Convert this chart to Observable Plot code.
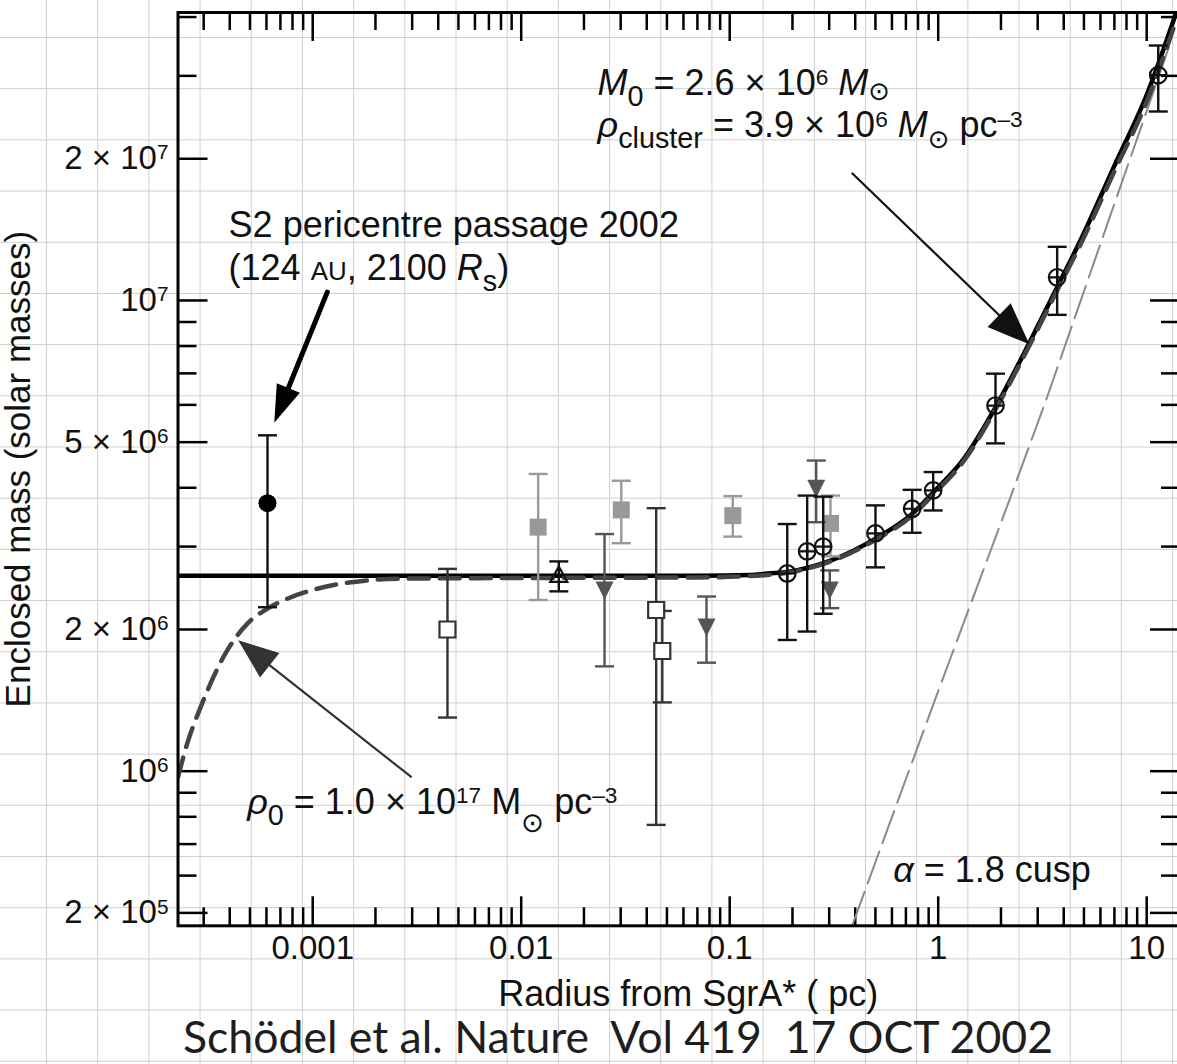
<!DOCTYPE html>
<html><head><meta charset="utf-8">
<script src="https://cdn.jsdelivr.net/npm/d3@7"></script>
<script src="https://cdn.jsdelivr.net/npm/@observablehq/plot@0.6"></script>
<style>
html { margin:0; padding:0; }
body { margin:0; padding:0; width:1177px; height:1064px; overflow:hidden; position:relative;
  background-color:#fff;
  background-image: linear-gradient(90deg, #cfcfcf 1.4px, transparent 1.4px), linear-gradient(180deg, #cfcfcf 1.4px, transparent 1.4px);
  background-size: 51.2px 51.2px; background-position: 46px 37px; }
#chart svg { display:block; }
#caption { position:absolute; left:183px; top:1017px; font-family: Lato, "Open Sans", sans-serif; font-size:44px; line-height:38px; color:#1e1e1e; white-space:pre; transform-origin:0 0; }
</style></head>
<body>
<div id="chart"></div>
<div id="caption">Schödel et al. Nature  Vol 419  17 OCT 2002</div>
<script>
// ---------- data ----------
// filled black circle: S2 pericentre passage
const s2_r = [6.07e-4], s2_m = [3.71e6], s2_lo = [2.23e6], s2_hi = [5.17e6];
// open squares
const openSq_r = [4.43e-3, 0.0444, 0.0475];
const openSq_m = [2.00e6, 2.20e6, 1.80e6];
const openSq_lo = [1.30e6, 7.69e5, 1.40e6];
const openSq_hi = [2.69e6, 3.62e6, 2.19e6];
// open triangle
const openTri_r = [0.01515], openTri_m = [2.61e6], openTri_lo = [2.41e6], openTri_hi = [2.79e6];
// light grey filled squares
const graySq_r = [0.01206, 0.0302, 0.1035, 0.3044];
const graySq_m = [3.30e6, 3.59e6, 3.49e6, 3.36e6];
const graySq_lo = [2.31e6, 3.05e6, 3.15e6, 2.86e6];
const graySq_hi = [4.28e6, 4.14e6, 3.84e6, 3.85e6];
// dark grey filled downward triangles
const downTri_r = [0.0251, 0.0774, 0.26, 0.302];
const downTri_m = [2.42e6, 2.02e6, 3.98e6, 2.42e6];
const downTri_lo = [1.67e6, 1.70e6, 3.38e6, 2.22e6];
const downTri_hi = [3.19e6, 2.35e6, 4.57e6, 2.67e6];
// circles with cross
const circ_r = [0.1888, 0.2353, 0.2808, 0.5003, 0.750, 0.946, 1.883, 3.72, 11.36];
const circ_m = [2.63e6, 2.93e6, 3.00e6, 3.20e6, 3.61e6, 3.95e6, 5.98e6, 1.12e7, 3.01e7];
const circ_lo = [1.90e6, 1.98e6, 2.16e6, 2.71e6, 3.21e6, 3.58e6, 4.97e6, 9.32e6, 2.52e7];
const circ_hi = [3.35e6, 3.85e6, 3.83e6, 3.67e6, 3.96e6, 4.32e6, 6.99e6, 1.30e7, 3.48e7];
// model curves
const solid_r = [2.26e-4, 0.0724, 0.1258, 0.1513, 0.1888, 0.3044, 0.5003, 0.750, 0.946, 1.327, 1.883, 2.771, 3.72, 4.814, 6.954, 10.06, 13.75];
const solid_m = [2.60e6, 2.60e6, 2.61e6, 2.63e6, 2.65e6, 2.80e6, 3.12e6, 3.52e6, 3.91e6, 4.61e6, 5.93e6, 8.22e6, 1.067e7, 1.342e7, 1.92e7, 2.75e7, 4.05e7];
const dashed_r = [2.26e-4, 2.50e-4, 2.90e-4, 3.89e-4, 4.85e-4, 6.05e-4, 7.55e-4, 1.051e-3, 1.826e-3, 2.64e-3, 0.01382, 0.0724, 0.1513, 0.3044, 0.5003, 0.750, 0.946, 1.327, 1.883, 2.771, 3.72, 4.814, 6.954, 10.06, 13.75];
const dashed_m = [9.72e5, 1.144e6, 1.368e6, 1.805e6, 2.056e6, 2.213e6, 2.325e6, 2.441e6, 2.542e6, 2.564e6, 2.574e6, 2.58e6, 2.61e6, 2.79e6, 3.10e6, 3.49e6, 3.87e6, 4.56e6, 5.87e6, 8.10e6, 1.050e7, 1.315e7, 1.870e7, 2.66e7, 3.90e7];
const cusp_r = [0.3895, 0.989, 2.222, 3.33, 12.77];
const cusp_m = [4.74e5, 1.46e6, 3.82e6, 6.23e6, 3.45e7];
// axes
const xMajor = [0.001, 0.01, 0.1, 1, 10];
const xMajorLabels = ["0.001", "0.01", "0.1", "1", "10"];
const xMinor = [3e-4,4e-4,5e-4,6e-4,7e-4,8e-4,9e-4, 2e-3,3e-3,4e-3,5e-3,6e-3,7e-3,8e-3,9e-3,
  0.02,0.03,0.04,0.05,0.06,0.07,0.08,0.09, 0.2,0.3,0.4,0.5,0.6,0.7,0.8,0.9, 2,3,4,5,6,7,8,9];
const yMajor = [5e5, 1e6, 2e6, 5e6, 1e7, 2e7];
const yMajorLabels = ["2 × 10^{5}", "10^{6}", "2 × 10^{6}", "5 × 10^{6}", "10^{7}", "2 × 10^{7}"];
const yMinor = [6e5,7e5,8e5,9e5, 3e6,4e6, 6e6,7e6,8e6,9e6, 3e7,4e7];
const xTitle = "Radius from SgrA* ( pc)";
const yTitle = "Enclosed mass (solar masses)";
// annotations
const note_r = [3.95e-4, 3.95e-4, 0.02323, 0.02323, 4.85e-4, 0.6083];
const note_m = [1.361e7, 1.103e7, 2.726e7, 2.22e7, 8.12e5, 5.81e5];
const note_text = [
  "S2 pericentre passage 2002",
  "(124 ~{AU}, 2100 *{R}_{s})",
  "*{M}_{0} = 2.6 × 10^{6} *{M}@{⊙}",
  "*{ρ}_{cluster} = 3.9 × 10^{6} *{M}%{⊙} pc^{–3}",
  "*{ρ}_{0} = 1.0 × 10^{17} M!{⊙} pc^{–3}",
  "*{α} = 1.8 cusp"
];
const arrowTip_r = [6.76e-4, 4.51e-4, 2.673];
const arrowTip_m = [5.70e6, 1.879e6, 8.15e6];

// ---------- build ----------
const pts = (r, m, lo, hi) => r.map((v, i) => ({r: v, m: m[i], lo: lo ? lo[i] : undefined, hi: hi ? hi[i] : undefined}));
const s2 = pts(s2_r, s2_m, s2_lo, s2_hi);
const openSq = pts(openSq_r, openSq_m, openSq_lo, openSq_hi);
const openTri = pts(openTri_r, openTri_m, openTri_lo, openTri_hi);
const graySq = pts(graySq_r, graySq_m, graySq_lo, graySq_hi);
const downTri = pts(downTri_r, downTri_m, downTri_lo, downTri_hi);
const circ = pts(circ_r, circ_m, circ_lo, circ_hi);
const solid = pts(solid_r, solid_m);
const dashed = pts(dashed_r, dashed_m);
const cusp = pts(cusp_r, cusp_m);
const notes = note_r.map((r, i) => ({r, m: note_m[i], text: note_text[i]}));
const tips = arrowTip_r.map((r, i) => ({r, m: arrowTip_m[i]}));

const rad = (size) => Math.sqrt(size / Math.PI);
const capSym = {draw(c, s) { const r = rad(s); c.moveTo(-r, 0); c.lineTo(r, 0); }};
const plusCircle = {draw(c, s) { const r = rad(s); c.moveTo(r, 0); c.arc(0, 0, r, 0, 2 * Math.PI); c.moveTo(-r, 0); c.lineTo(r, 0); c.moveTo(0, -r); c.lineTo(0, r); }};
const squareSym = {draw(c, s) { const r = rad(s); c.moveTo(-r, -r); c.lineTo(r, -r); c.lineTo(r, r); c.lineTo(-r, r); c.closePath(); }};
const upTriSym = {draw(c, s) { const r = rad(s); c.moveTo(0, -r); c.lineTo(r, r * 0.8); c.lineTo(-r, r * 0.8); c.closePath(); }};
const downTriSym = {draw(c, s) { const r = rad(s); c.moveTo(-r, -r); c.lineTo(r, -r); c.lineTo(0, r); c.closePath(); }};
const arrowShape = (head, half) => ({draw(c, l) {
  c.moveTo(0, 0); c.lineTo(0, -(l - head + 2));
  c.moveTo(0, -l); c.lineTo(-half, -l + head); c.lineTo(half, -l + head); c.closePath();
}});

function errorMarks(data, color, width) {
  return [
    Plot.ruleX(data, {x: "r", y1: "lo", y2: "hi", stroke: color, strokeWidth: width}),
    Plot.dot(data, {x: "r", y: "hi", symbol: capSym, r: 9.5, stroke: color, fill: "none", strokeWidth: width}),
    Plot.dot(data, {x: "r", y: "lo", symbol: capSym, r: 9.5, stroke: color, fill: "none", strokeWidth: width})
  ];
}

const W = 1180, H = 1015, ML = 177.5, MT = 12, MB = 89.7, MR = 0;
const FW = W - ML - MR, FH = H - MT - MB;
const tk = {stroke: "#000", strokeWidth: 2.5};

const chart = Plot.plot({
  width: W, height: H,
  marginLeft: ML, marginRight: MR, marginTop: MT, marginBottom: MB,
  style: {background: "transparent", fontFamily: "Liberation Sans, Arial, Helvetica, sans-serif", fontSize: "33px", color: "#111", maxWidth: "none", overflow: "visible"},
  x: {type: "log", domain: [2.2592e-4, 14.525], ticks: xMajor, tickFormat: d => xMajorLabels[xMajor.indexOf(d)], tickSize: 0, tickPadding: 10, label: null},
  y: {type: "log", domain: [4.694e5, 4.09e7], ticks: yMajor, tickFormat: d => yMajorLabels[yMajor.indexOf(d)], tickSize: 0, tickPadding: 9.5, label: null},
  marks: [
    // inward ticks on all sides
    Plot.ruleX(xMajor, {x: d => d, insetTop: FH - 29, ...tk}),
    Plot.ruleX(xMinor, {x: d => d, insetTop: FH - 18, ...tk}),
    Plot.ruleX(xMajor, {x: d => d, insetBottom: FH - 29, ...tk}),
    Plot.ruleX(xMinor, {x: d => d, insetBottom: FH - 18, ...tk}),
    Plot.ruleY(yMajor, {y: d => d, insetRight: FW - 30, ...tk}),
    Plot.ruleY(yMinor, {y: d => d, insetRight: FW - 19, ...tk}),
    Plot.ruleY(yMajor, {y: d => d, insetLeft: FW - 30, ...tk}),
    Plot.ruleY(yMinor, {y: d => d, insetLeft: FW - 19, ...tk}),
    // model curves
    Plot.line(cusp, {x: "r", y: "m", stroke: "#8a8a8a", strokeWidth: 2, strokeDasharray: "34,9", clip: true}),
    Plot.line(solid, {x: "r", y: "m", stroke: "#000", strokeWidth: 4.5, curve: "monotone-x", clip: true}),
    Plot.line(dashed, {x: "r", y: "m", stroke: "#444", strokeWidth: 4.5, strokeDasharray: "20,11", curve: "monotone-x", clip: true}),
    // data with error bars
    ...errorMarks(graySq, "#999", 2.4),
    Plot.dot(graySq, {x: "r", y: "m", symbol: squareSym, r: 8.5, fill: "#999", stroke: "none"}),
    ...errorMarks(downTri, "#555", 2.4),
    Plot.dot(downTri, {x: "r", y: "m", symbol: downTriSym, r: 9, fill: "#555", stroke: "none"}),
    ...errorMarks(openSq, "#333", 2.4),
    Plot.dot(openSq, {x: "r", y: "m", symbol: squareSym, r: 8, fill: "#fff", stroke: "#333", strokeWidth: 2.2}),
    ...errorMarks(openTri, "#111", 2.4),
    Plot.dot(openTri, {x: "r", y: "m", symbol: upTriSym, r: 8.5, fill: "none", stroke: "#111", strokeWidth: 2.2}),
    ...errorMarks(circ, "#111", 2.4),
    Plot.dot(circ, {x: "r", y: "m", symbol: plusCircle, r: 8.3, fill: "none", stroke: "#111", strokeWidth: 2.2}),
    ...errorMarks(s2, "#111", 2.4),
    Plot.dot(s2, {x: "r", y: "m", r: 9, fill: "#000", stroke: "none"}),
    // annotation arrows
    Plot.vector([tips[0]], {x: "r", y: "m", anchor: "end", length: 133, rotate: -157.9, shape: arrowShape(27, 9), stroke: "#000", fill: "#000", strokeWidth: 5, strokeLinejoin: "miter"}),
    Plot.vector([tips[1]], {x: "r", y: "m", anchor: "end", length: 217, rotate: -51.7, shape: arrowShape(36, 14), stroke: "#333", fill: "#333", strokeWidth: 2.2, strokeLinejoin: "miter"}),
    Plot.vector([tips[2]], {x: "r", y: "m", anchor: "end", length: 243, rotate: 134.0, shape: arrowShape(38, 15), stroke: "#111", fill: "#111", strokeWidth: 2.2, strokeLinejoin: "miter"}),
    // annotation texts
    Plot.text(notes, {x: "r", y: "m", text: "text", textAnchor: "start", lineAnchor: "bottom", fontSize: 36, fill: "#111"}),
    // axis titles
    Plot.text([xTitle], {frameAnchor: "bottom", dx: 9, dy: 80.5, text: d => d, lineAnchor: "bottom", fontSize: 36, fill: "#111"}),
    Plot.text([yTitle], {frameAnchor: "left", dx: -159.5, rotate: -90, text: d => d, lineAnchor: "middle", textAnchor: "middle", fontSize: 35, fill: "#111"}),
    Plot.frame({stroke: "#000", strokeWidth: 3})
  ]
});
document.getElementById("chart").appendChild(chart);

// rich text: ^{sup} _{sub} @{raised sun} %{sun} !{deep sun} *{italic} ~{small}
const NS = "http://www.w3.org/2000/svg";
const KEYS = "^_*~@%!";
function richify(el) {
  const raw = el.textContent;
  if (!/[\^_*~@%!]\{/.test(raw)) return;
  const fs = parseFloat(getComputedStyle(el).fontSize);
  const segs = []; let buf = ""; let i = 0;
  while (i < raw.length) {
    const ch = raw[i];
    if (KEYS.includes(ch) && raw[i + 1] === "{") {
      if (buf) { segs.push({t: buf, k: ""}); buf = ""; }
      const j = raw.indexOf("}", i + 2);
      segs.push({t: raw.slice(i + 2, j), k: ch});
      i = j + 1;
    } else { buf += ch; i++; }
  }
  if (buf) segs.push({t: buf, k: ""});
  while (el.firstChild) el.removeChild(el.firstChild);
  let cur = 0;
  for (const s of segs) {
    const ts = document.createElementNS(NS, "tspan");
    let off = 0, size = fs, italic = false, family = null;
    if (s.k === "^") { off = -0.3 * fs; size = 0.63 * fs; }
    else if (s.k === "_") { off = 0.3 * fs; size = 0.8 * fs; }
    else if (s.k === "@") { off = 0.12 * fs; size = 0.72 * fs; family = "DejaVu Sans"; }
    else if (s.k === "%") { off = 0.3 * fs; size = 0.72 * fs; family = "DejaVu Sans"; }
    else if (s.k === "!") { off = 0.5 * fs; size = 0.76 * fs; family = "DejaVu Sans"; }
    else if (s.k === "*") italic = true;
    else if (s.k === "~") size = 0.72 * fs;
    ts.setAttribute("font-size", size);
    if (italic) ts.setAttribute("font-style", "italic");
    if (family) ts.setAttribute("font-family", family);
    if (off !== cur) ts.setAttribute("dy", off - cur);
    cur = off;
    ts.textContent = s.t;
    el.appendChild(ts);
  }
}
chart.querySelectorAll("text").forEach(richify);

// caption width fit
const cap = document.getElementById("caption");
const w = cap.getBoundingClientRect().width;
cap.style.transform = `scaleX(${870 / w})`;
</script>
</body></html>
